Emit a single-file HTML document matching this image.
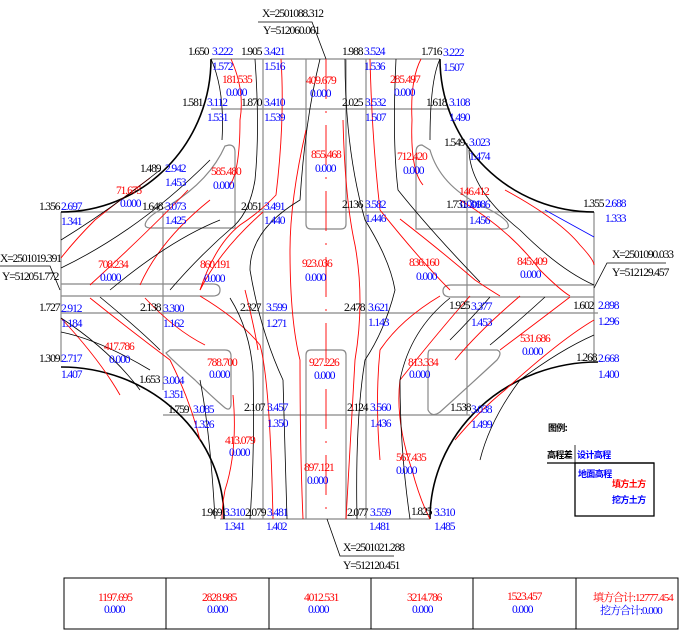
<!DOCTYPE html>
<html><head><meta charset="utf-8"><style>
html,body{margin:0;padding:0;background:#fff}
svg{display:block}
text{font-family:"Liberation Serif","Noto Serif CJK SC",serif;font-size:11.5px;letter-spacing:-1.1px}
.k{fill:#000}.b{fill:#0000ff}.r{fill:#ff0000}
.g{stroke:#888;stroke-width:1.2;fill:none}
.rl{stroke:#f00;stroke-width:0.9;fill:none}
.bl{stroke:#000;stroke-width:0.8;fill:none}
.cjk{font-family:"Noto Sans CJK SC",sans-serif;font-size:9px;letter-spacing:-0.6px;font-weight:bold}
</style></head><body>
<svg width="681" height="639" viewBox="0 0 681 639" xmlns="http://www.w3.org/2000/svg">
<g class="g">
<line x1="211" y1="59" x2="440" y2="59"/>
<line x1="211" y1="109" x2="450" y2="109"/>
<line x1="61" y1="212" x2="594" y2="212"/>
<line x1="61" y1="313" x2="598" y2="313"/>
<line x1="163" y1="415" x2="470" y2="415"/>
<line x1="220" y1="519" x2="430" y2="519"/>
<line x1="61" y1="212" x2="61" y2="362"/>
<line x1="594" y1="212" x2="594" y2="362"/>
<line x1="163" y1="212" x2="163" y2="390"/>
<line x1="467" y1="143" x2="467" y2="415"/>
<line x1="263" y1="59" x2="263" y2="519"/>
<line x1="366" y1="59" x2="366" y2="519"/>
<path d="M306 59 V224 Q306 229 311 229 H341 Q346 229 346 224 V59"/>
<path d="M306 519 V355 Q306 350 311 350 H341 Q346 350 346 355 V519"/>
<path d="M61 284 H213 Q220 284 220 290 Q220 296 213 296 H61"/>
<path d="M594 285 H451 Q443 285 443 291 Q443 297 451 297 H594"/>
<path d="M229 145 Q235 145 235 152 V228 H151 Q143 228 146 222 Q150 214 170 205 Q210 180 225 146 Z"/>
<path d="M422 145 Q416 145 416 152 V229 H503 Q511 229 507 222 Q500 214 480 205 Q440 185 430 150 Z"/>
<path d="M170 350 H225 Q231 350 231 356 V405 Q230 412 224 407 Q210 395 195 380 Q170 358 166 353 Z"/>
<path d="M430 350 H497 Q503 352 497 360 Q470 385 440 412 Q432 418 428 410 V356 Q428 350 430 350 Z"/>
</g>
<g stroke="#000" stroke-width="1.6" fill="none">
<path d="M211 59 A150 153 0 0 1 61 212"/>
<path d="M440 59 A154 153 0 0 0 594 212"/>
<path d="M61 367 A163 152 0 0 1 224 519"/>
<path d="M598 362 A168 157 0 0 0 430 519"/>
</g>
<line x1="545" y1="210" x2="594" y2="237" stroke="#00f" stroke-width="0.8"/>
<g class="rl">
<path d="M231 59 Q245 90 240 120 Q240 170 230 185"/>
<path d="M281 59 Q285 120 276 195 Q260 212 240 225 Q215 245 200 290"/>
<path d="M326 59 V520" stroke-dasharray="40 12 2 12"/>
<path d="M306 130 Q290 200 290 250 Q290 320 300 360 Q300 450 303 519"/>
<path d="M343 120 Q345 200 355 245 Q365 300 355 360 Q350 450 346 519"/>
<path d="M370 59 Q372 140 380 210 Q420 260 450 290"/>
<path d="M421 59 Q410 80 412 120 Q410 170 423 185"/>
<path d="M400 219 Q440 250 475 280 Q490 290 500 296"/>
<path d="M460 200 Q510 230 540 270 Q560 290 570 296"/>
<path d="M505 190 Q560 220 580 245 Q594 260 594 265"/>
<path d="M150 178 Q120 200 95 220 Q75 240 61 258"/>
<path d="M188 190 Q150 230 90 285"/>
<path d="M210 200 Q160 240 140 285"/>
<path d="M263 212 Q220 250 200 290"/>
<path d="M61 318 Q100 360 120 395"/>
<path d="M90 298 Q130 330 170 360 Q190 400 200 440"/>
<path d="M145 298 Q175 330 205 345"/>
<path d="M200 296 Q240 320 260 345 Q270 380 273 519"/>
<path d="M245 290 Q255 330 258 350"/>
<path d="M233 395 Q238 450 225 490 Q222 505 222 519"/>
<path d="M440 296 Q400 320 380 350 Q375 400 380 460"/>
<path d="M470 296 Q440 330 400 380 Q395 420 412 470 Q420 500 430 519"/>
<path d="M520 296 Q480 330 455 360"/>
<path d="M570 297 Q540 320 500 350"/>
<path d="M594 320 Q560 340 505 390 Q480 410 455 440"/>
</g>
<g class="bl">
<path d="M211 59 Q225 90 222 140"/>
<path d="M255 59 Q260 130 255 180 Q250 210 235 225 Q200 255 170 290"/>
<path d="M320 59 Q305 120 300 200 Q250 230 250 270 Q260 330 283 380 Q285 450 287 519"/>
<path d="M345 59 Q345 150 365 220 Q390 260 395 290 Q385 330 365 360 Q355 420 357 519"/>
<path d="M396 59 Q392 140 398 190 Q430 230 480 282"/>
<path d="M440 59 Q430 80 430 140"/>
<path d="M469 150 Q470 190 520 230 Q560 270 594 285"/>
<path d="M61 240 Q110 210 160 170"/>
<path d="M61 268 Q140 230 210 160"/>
<path d="M110 290 Q170 240 220 220"/>
<path d="M61 318 Q110 350 140 390"/>
<path d="M61 332 Q100 340 150 370"/>
<path d="M100 297 Q140 330 160 350"/>
<path d="M230 298 Q250 330 253 372 Q255 450 250 519"/>
<path d="M450 298 Q410 330 400 380 Q400 450 410 519"/>
<path d="M490 297 Q470 320 450 340"/>
<path d="M545 297 Q520 320 490 345"/>
<path d="M594 335 Q560 350 520 380 Q490 420 480 460"/>
<path d="M200 380 Q210 430 215 519"/>
</g>
<g stroke="#000" stroke-width="0.8" fill="none">
<polyline points="258,22 312,22 326,59"/>
<polyline points="0,266 50,266 60,290"/>
<polyline points="666,263 607,263 594,288"/>
<polyline points="327,519 340,556 394,556"/>
</g>
<text class="k" x="262" y="17">X=2501088.312</text>
<text class="k" x="263" y="34">Y=512060.061</text>
<text class="k" x="0" y="262">X=2501019.391</text>
<text class="k" x="2" y="280">Y=512051.772</text>
<text class="k" x="612" y="258">X=2501090.033</text>
<text class="k" x="612" y="276">Y=512129.457</text>
<text class="k" x="343" y="551">X=2501021.288</text>
<text class="k" x="343" y="569">Y=512120.451</text>
<g class="k">
<text x="188" y="55">1.650</text><text x="241" y="55">1.905</text><text x="342" y="55">1.988</text><text x="421" y="55">1.716</text>
<text x="182" y="106">1.581</text><text x="241" y="106">1.870</text><text x="342" y="106">2.025</text><text x="426" y="106">1.618</text>
<text x="140" y="172">1.489</text><text x="444" y="146">1.549</text>
<text x="39" y="210">1.356</text><text x="142" y="210">1.648</text><text x="241" y="210">2.051</text><text x="342" y="208">2.136</text><text x="446" y="208">1.731</text><text x="583" y="207">1.355</text>
<text x="39" y="311">1.727</text><text x="140" y="311">2.138</text><text x="240" y="311">2.327</text><text x="344" y="311">2.478</text><text x="449" y="309">1.925</text><text x="573" y="309">1.602</text>
<text x="39" y="362">1.309</text><text x="139" y="383">1.653</text><text x="576" y="361">1.268</text>
<text x="168" y="413">1.759</text><text x="244" y="411">2.107</text><text x="347" y="411">2.124</text><text x="450" y="411">1.538</text>
<text x="201" y="516">1.969</text><text x="245" y="516">2.079</text><text x="347" y="516">2.077</text><text x="411" y="515">1.825</text>
</g>
<g class="b">
<text x="212" y="55">3.222</text><text x="212" y="70">1.572</text>
<text x="264" y="55">3.421</text><text x="264" y="70">1.516</text>
<text x="364" y="55">3.524</text><text x="364" y="70">1.536</text>
<text x="443" y="56">3.222</text><text x="443" y="71">1.507</text>
<text x="207" y="106">3.112</text><text x="207" y="121">1.531</text>
<text x="264" y="106">3.410</text><text x="264" y="121">1.539</text>
<text x="365" y="106">3.532</text><text x="365" y="121">1.507</text>
<text x="449" y="106">3.108</text><text x="449" y="121">1.490</text>
<text x="165" y="172">2.942</text><text x="165" y="186">1.453</text>
<text x="469" y="146">3.023</text><text x="469" y="160">1.474</text>
<text x="61" y="210">2.697</text><text x="61" y="225">1.341</text>
<text x="165" y="210">3.073</text><text x="165" y="224">1.425</text>
<text x="264" y="210">3.491</text><text x="264" y="224">1.440</text>
<text x="365" y="208">3.582</text><text x="365" y="222">1.446</text>
<text x="469" y="208">3.186</text><text x="469" y="224">1.456</text>
<text x="605" y="207">2.688</text><text x="605" y="222">1.333</text>
<text x="61" y="312">2.912</text><text x="61" y="327">1.184</text>
<text x="163" y="312">3.300</text><text x="163" y="327">1.162</text>
<text x="266" y="311">3.599</text><text x="266" y="327">1.271</text>
<text x="368" y="311">3.621</text><text x="368" y="326">1.143</text>
<text x="471" y="310">3.377</text><text x="471" y="326">1.453</text>
<text x="598" y="309">2.898</text><text x="598" y="325">1.296</text>
<text x="61" y="362">2.717</text><text x="61" y="378">1.407</text>
<text x="163" y="384">3.004</text><text x="163" y="398">1.351</text>
<text x="598" y="362">2.668</text><text x="598" y="378">1.400</text>
<text x="193" y="413">3.085</text><text x="193" y="428">1.326</text>
<text x="267" y="411">3.457</text><text x="267" y="427">1.350</text>
<text x="370" y="411">3.560</text><text x="370" y="427">1.436</text>
<text x="471" y="413">3.038</text><text x="471" y="428">1.499</text>
<text x="224" y="516">3.310</text><text x="224" y="530">1.341</text>
<text x="267" y="516">3.481</text><text x="266" y="530">1.402</text>
<text x="370" y="516">3.559</text><text x="369" y="530">1.481</text>
<text x="434" y="516">3.310</text><text x="434" y="530">1.485</text>
</g>
<g>
<text class="r" x="222" y="83">181.535</text><text class="b" x="226" y="96">0.000</text>
<text class="r" x="306" y="84">409.679</text><text class="b" x="310" y="97">0.000</text>
<text class="r" x="390" y="83">285.497</text><text class="b" x="394" y="96">0.000</text>
<text class="r" x="311" y="158">855.468</text><text class="b" x="315" y="172">0.000</text>
<text class="r" x="211" y="175">585.480</text><text class="b" x="213" y="189">0.000</text>
<text class="r" x="397" y="160">712.420</text><text class="b" x="403" y="174">0.000</text>
<text class="r" x="116" y="194">71.675</text><text class="b" x="120" y="207">0.000</text>
<text class="r" x="459" y="195">146.412</text><text class="b" x="460" y="208">0.000</text>
<text class="r" x="98" y="268">708.234</text><text class="b" x="100" y="281">0.000</text>
<text class="r" x="200" y="268">860.191</text><text class="b" x="204" y="282">0.000</text>
<text class="r" x="302" y="267">923.036</text><text class="b" x="305" y="281">0.000</text>
<text class="r" x="409" y="266">836.160</text><text class="b" x="416" y="280">0.000</text>
<text class="r" x="517" y="265">845.409</text><text class="b" x="520" y="278">0.000</text>
<text class="r" x="104" y="350">417.786</text><text class="b" x="109" y="363">0.000</text>
<text class="r" x="207" y="366">788.700</text><text class="b" x="209" y="378">0.000</text>
<text class="r" x="309" y="366">927.226</text><text class="b" x="314" y="379">0.000</text>
<text class="r" x="408" y="366">813.334</text><text class="b" x="409" y="378">0.000</text>
<text class="r" x="520" y="342">531.686</text><text class="b" x="522" y="355">0.000</text>
<text class="r" x="225" y="444">413.079</text><text class="b" x="229" y="456">0.000</text>
<text class="r" x="396" y="461">567.435</text><text class="b" x="396" y="474">0.000</text>
<text class="r" x="304" y="471">897.121</text><text class="b" x="307" y="484">0.000</text>
</g>
<text class="cjk k" x="548" y="431">图例:</text>
<text class="cjk k" x="547" y="458">高程差</text>
<text class="cjk b" x="577" y="458">设计高程</text>
<line x1="547" y1="463" x2="654" y2="463" stroke="#000" stroke-width="1.2"/>
<line x1="575" y1="463" x2="575" y2="445" stroke="#000" stroke-width="0.8"/>
<rect x="575" y="463" width="79" height="53" fill="none" stroke="#000" stroke-width="1.3"/>
<text class="cjk b" x="578" y="477">地面高程</text>
<text class="cjk r" x="612" y="487">填方土方</text>
<text class="cjk b" x="612" y="503">挖方土方</text>
<g stroke="#000" stroke-width="1" fill="none">
<rect x="64" y="578" width="614" height="51"/>
<line x1="166" y1="578" x2="166" y2="629"/><line x1="269" y1="578" x2="269" y2="629"/>
<line x1="371" y1="578" x2="371" y2="629"/><line x1="473" y1="578" x2="473" y2="629"/>
<line x1="576" y1="578" x2="576" y2="629"/>
</g>
<g>
<text class="r" x="98" y="601">1197.695</text><text class="b" x="104" y="613">0.000</text>
<text class="r" x="202" y="601">2828.985</text><text class="b" x="207" y="613">0.000</text>
<text class="r" x="304" y="601">4012.531</text><text class="b" x="308" y="613">0.000</text>
<text class="r" x="407" y="601">3214.786</text><text class="b" x="412" y="613">0.000</text>
<text class="r" x="507" y="600">1523.457</text><text class="b" x="512" y="613">0.000</text>
<text class="r" x="593" y="601" style="font-size:11px;letter-spacing:-1px">填方合计:12777.454</text><text class="b" x="600" y="614" style="font-size:11px;letter-spacing:-1px">挖方合计:0.000</text>
</g>
</svg>
</body></html>
